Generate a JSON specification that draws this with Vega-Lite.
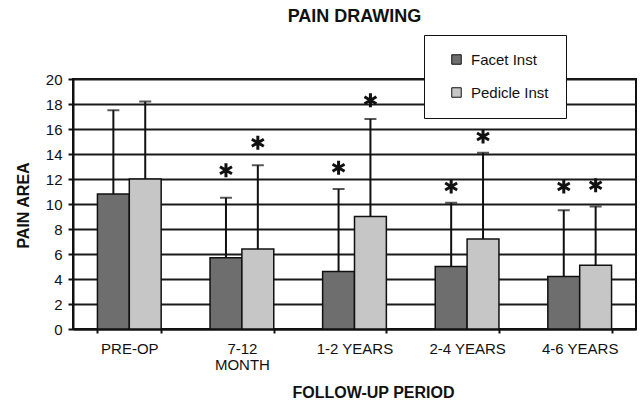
{
  "$schema": "https://vega.github.io/schema/vega-lite/v6.json",
  "width": 563,
  "height": 250,
  "autosize": {"type": "none"},
  "padding": {"left": 73, "top": 79, "right": 4, "bottom": 75},
  "background": "white",
  "title": {
    "text": "PAIN  DRAWING",
    "font": "Liberation Sans",
    "fontSize": 18,
    "fontWeight": "bold",
    "color": "#111",
    "anchor": "middle",
    "frame": "group",
    "offset": 9
  },
  "data": {
    "values": [
      {"period": "PRE-OP", "group": "Facet Inst", "mean": 10.8, "upper": 17.5, "star": null},
      {"period": "PRE-OP", "group": "Pedicle Inst", "mean": 12.0, "upper": 18.2, "star": null},
      {"period": "7-12 MONTH", "group": "Facet Inst", "mean": 5.7, "upper": 10.5, "star": 12.7},
      {"period": "7-12 MONTH", "group": "Pedicle Inst", "mean": 6.4, "upper": 13.1, "star": 14.9},
      {"period": "1-2 YEARS", "group": "Facet Inst", "mean": 4.6, "upper": 11.2, "star": 12.9},
      {"period": "1-2 YEARS", "group": "Pedicle Inst", "mean": 9.0, "upper": 16.8, "star": 18.3},
      {"period": "2-4 YEARS", "group": "Facet Inst", "mean": 5.0, "upper": 10.1, "star": 11.4},
      {"period": "2-4 YEARS", "group": "Pedicle Inst", "mean": 7.2, "upper": 14.1, "star": 15.4},
      {"period": "4-6 YEARS", "group": "Facet Inst", "mean": 4.2, "upper": 9.5, "star": 11.4},
      {"period": "4-6 YEARS", "group": "Pedicle Inst", "mean": 5.1, "upper": 9.8, "star": 11.5}
    ]
  },
  "encoding": {
    "x": {
      "field": "period",
      "type": "nominal",
      "sort": ["PRE-OP", "7-12 MONTH", "1-2 YEARS", "2-4 YEARS", "4-6 YEARS"],
      "scale": {"paddingInner": 0.434, "paddingOuter": 0.217},
      "axis": {
        "title": "FOLLOW-UP   PERIOD",
        "labelAngle": 0,
        "labelFontSize": 15,
        "labelExpr": "datum.value == '7-12 MONTH' ? ['7-12', 'MONTH'] : datum.value",
        "labelLineHeight": 16,
        "labelBaseline": "top",
        "labelPadding": 8,
        "tickBand": "extent",
        "tickSize": 4,
        "tickWidth": 2,
        "tickColor": "#111",
        "domainColor": "#111",
        "domainWidth": 2,
        "titleX": 300,
        "titleY": 63,
        "titleBaseline": "middle",
        "titleAlign": "center"
      }
    },
    "xOffset": {"field": "group", "type": "nominal", "sort": ["Facet Inst", "Pedicle Inst"]}
  },
  "layer": [
    {
      "mark": {"type": "bar", "stroke": "#111", "strokeWidth": 1.5},
      "encoding": {
        "y": {
          "field": "mean",
          "type": "quantitative",
          "scale": {"domain": [0, 20], "nice": false},
          "axis": {
            "title": "PAIN  AREA",
            "values": [0, 2, 4, 6, 8, 10, 12, 14, 16, 18, 20],
            "labelOverlap": false,
            "grid": true,
            "gridColor": "#1a1a1a",
            "gridWidth": 2,
            "gridOpacity": 1,
            "domainColor": "#111",
            "domainWidth": 2,
            "tickColor": "#111",
            "tickSize": 5,
            "tickWidth": 2,
            "labelPadding": 6,
            "titleAngle": 270,
            "titleBaseline": "middle",
            "titleAlign": "center",
            "titleX": -50,
            "titleY": 126
          }
        },
        "color": {
          "field": "group",
          "type": "nominal",
          "scale": {"domain": ["Facet Inst", "Pedicle Inst"], "range": ["#6e6e6e", "#c6c6c6"]},
          "legend": {
            "title": null,
            "orient": "none",
            "legendX": 351,
            "legendY": -44,
            "fillColor": "white",
            "strokeColor": "#111",
            "padding": 17,
            "symbolOffset": 8,
            "rowPadding": 17,
            "symbolType": "square",
            "symbolSize": 90,
            "symbolStrokeColor": "#111",
            "symbolStrokeWidth": 1,
            "labelFontSize": 15,
            "labelOffset": 7,
            "labelFont": "Liberation Sans",
            "labelColor": "#111"
          }
        }
      }
    },
    {
      "mark": {"type": "rule", "color": "#111", "strokeWidth": 2},
      "encoding": {
        "y": {
          "field": "mean",
          "type": "quantitative",
          "axis": {
            "title": "PAIN  AREA",
            "values": [0, 2, 4, 6, 8, 10, 12, 14, 16, 18, 20],
            "labelOverlap": false,
            "grid": true,
            "gridColor": "#1a1a1a",
            "gridWidth": 2,
            "gridOpacity": 1,
            "domainColor": "#111",
            "domainWidth": 2,
            "tickColor": "#111",
            "tickSize": 5,
            "tickWidth": 2,
            "labelPadding": 6,
            "titleAngle": 270,
            "titleBaseline": "middle",
            "titleAlign": "center",
            "titleX": -50,
            "titleY": 126
          }
        },
        "y2": {"field": "upper"}
      }
    },
    {
      "mark": {"type": "tick", "color": "#111", "thickness": 2, "size": 12, "orient": "horizontal"},
      "encoding": {
        "y": {
          "field": "upper",
          "type": "quantitative",
          "axis": {
            "title": "PAIN  AREA",
            "values": [0, 2, 4, 6, 8, 10, 12, 14, 16, 18, 20],
            "labelOverlap": false,
            "grid": true,
            "gridColor": "#1a1a1a",
            "gridWidth": 2,
            "gridOpacity": 1,
            "domainColor": "#111",
            "domainWidth": 2,
            "tickColor": "#111",
            "tickSize": 5,
            "tickWidth": 2,
            "labelPadding": 6,
            "titleAngle": 270,
            "titleBaseline": "middle",
            "titleAlign": "center",
            "titleX": -50,
            "titleY": 126
          }
        }
      }
    },
    {
      "transform": [{"filter": "datum.star != null"}],
      "mark": {
        "type": "point",
        "shape": "M0,-1L0,1M-0.87,-0.5L0.87,0.5M-0.87,0.5L0.87,-0.5",
        "filled": false,
        "stroke": "#111",
        "strokeWidth": 3,
        "size": 190,
        "opacity": 1
      },
      "encoding": {
        "y": {
          "field": "star",
          "type": "quantitative",
          "axis": {
            "title": "PAIN  AREA",
            "values": [0, 2, 4, 6, 8, 10, 12, 14, 16, 18, 20],
            "labelOverlap": false,
            "grid": true,
            "gridColor": "#1a1a1a",
            "gridWidth": 2,
            "gridOpacity": 1,
            "domainColor": "#111",
            "domainWidth": 2,
            "tickColor": "#111",
            "tickSize": 5,
            "tickWidth": 2,
            "labelPadding": 6,
            "titleAngle": 270,
            "titleBaseline": "middle",
            "titleAlign": "center",
            "titleX": -50,
            "titleY": 126
          }
        }
      }
    }
  ],
  "config": {
    "font": "Liberation Sans",
    "view": {"stroke": "#111", "strokeWidth": 2},
    "axis": {
      "labelFont": "Liberation Sans",
      "labelFontSize": 15,
      "labelColor": "#111",
      "titleFont": "Liberation Sans",
      "titleFontSize": 16,
      "titleFontWeight": "bold",
      "titleColor": "#111"
    }
  }
}
